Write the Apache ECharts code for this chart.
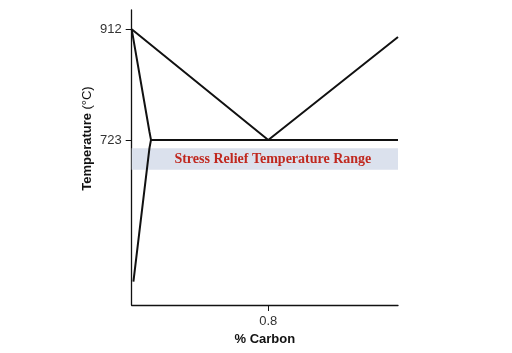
<!DOCTYPE html>
<html>
<head>
<meta charset="utf-8">
<script src="https://cdn.jsdelivr.net/npm/echarts@6/dist/echarts.min.js"></script>
<style>
  html, body { margin: 0; padding: 0; background: #fff; }
  #chart { width: 512px; height: 353px; }
</style>
</head>
<body>
<div id="chart"></div>
<script>
// 相图数据: [% Carbon, 温度 °C]
const upperLine = [[0, 912], [0.8, 723], [1.56, 899]];
const leftCurve = [[0, 912], [0.104, 737], [0.113, 723], [0.104, 709], [0.01, 481]];
const eutectoidLine = [[0.113, 723], [1.56, 723]];
const reliefBand = [672, 709];
const bandLabel = 'Stress Relief Temperature Range';
const xTicks = [0.8];
const yTicks = [723, 912];

const chart = echarts.init(document.getElementById('chart'));

const lineStyle = { color: '#111', width: 2 };

const option = {
  animation: false,
  grid: { left: 131.7, right: 114, top: 10, bottom: 48 },
  xAxis: {
    type: 'value',
    min: 0,
    max: 1.56,
    name: '% Carbon',
    nameLocation: 'middle',
    nameGap: 27,
    nameTextStyle: { color: '#111', fontSize: 13, fontWeight: 'bold', fontFamily: 'Liberation Sans' },
    axisLine: { lineStyle: { color: '#111', width: 1.3 } },
    axisTick: { customValues: xTicks, length: 6, lineStyle: { color: '#111' } },
    axisLabel: { customValues: xTicks, margin: 10, color: '#333', fontSize: 13, fontFamily: 'Liberation Sans' },
    splitLine: { show: false }
  },
  yAxis: {
    type: 'value',
    min: 441,
    max: 945,
    name: '{b|Temperature} {n|(°C)}',
    nameLocation: 'middle',
    nameGap: 38,
    nameMoveOverlap: false,
    nameTextStyle: {
      padding: [0, 0, 0, 38],
      rich: {
        b: { fontSize: 13, fontWeight: 'bold', color: '#111', fontFamily: 'Liberation Sans' },
        n: { fontSize: 13, color: '#111', fontFamily: 'Liberation Sans' }
      }
    },
    axisLine: { show: true, lineStyle: { color: '#111', width: 1.3 } },
    axisTick: { show: true, customValues: yTicks, length: 6, lineStyle: { color: '#111' } },
    axisLabel: { customValues: yTicks, margin: 10, color: '#333', fontSize: 13, fontFamily: 'Liberation Sans' },
    splitLine: { show: false }
  },
  series: [
    {
      type: 'line',
      data: upperLine,
      symbol: 'none',
      lineStyle: lineStyle,
      z: 3,
      markArea: {
        silent: true,
        itemStyle: { color: '#dbe1ed' },
        label: {
          show: true,
          position: 'inside',
          offset: [8, 0],
          color: '#c0281f',
          fontSize: 14,
          fontWeight: 'bold',
          fontFamily: 'Liberation Serif'
        },
        data: [[
          { name: bandLabel, xAxis: 0, yAxis: reliefBand[1] },
          { xAxis: 1.56, yAxis: reliefBand[0] }
        ]]
      }
    },
    {
      type: 'line',
      data: leftCurve,
      symbol: 'none',
      lineStyle: lineStyle,
      z: 3
    },
    {
      type: 'line',
      data: eutectoidLine,
      symbol: 'none',
      lineStyle: lineStyle,
      z: 3
    }
  ]
};

chart.setOption(option);

window.addEventListener('resize', function() {
  chart.resize();
});
</script>
</body>
</html>
